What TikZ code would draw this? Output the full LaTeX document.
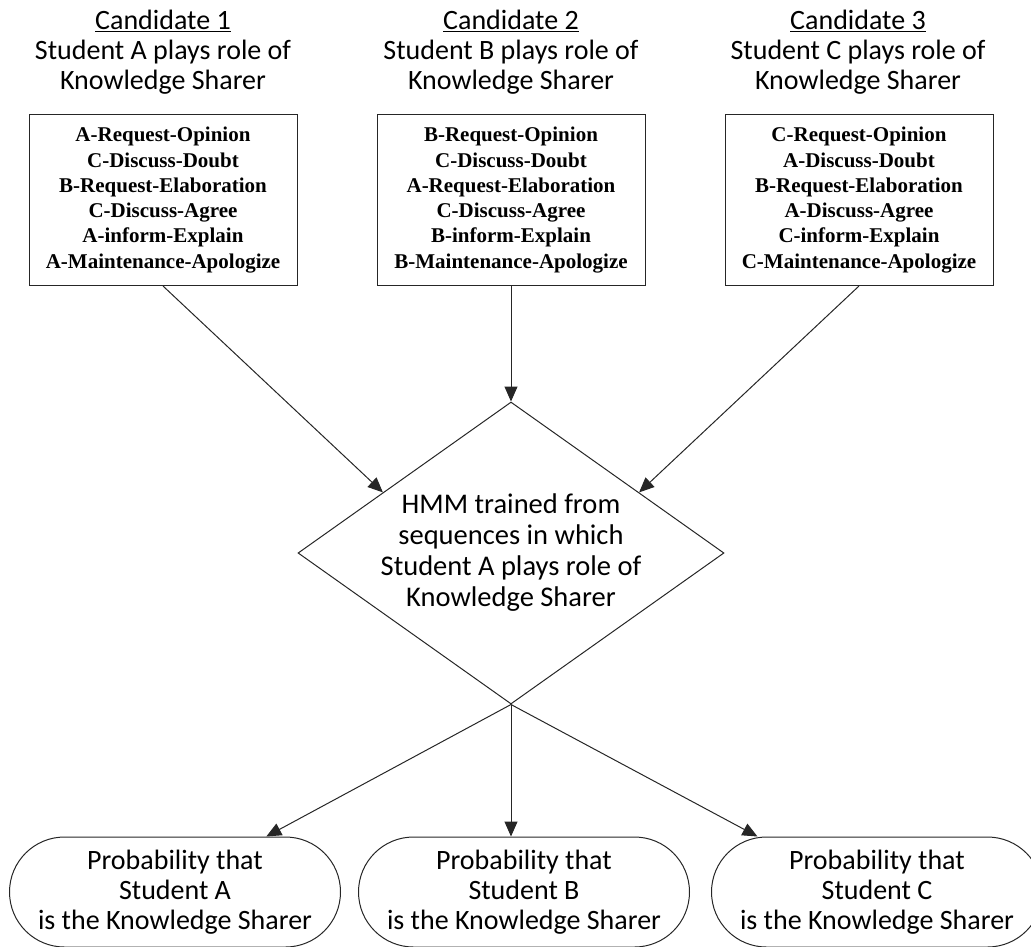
\documentclass[tikz,border=0pt]{standalone}
\usepackage{fontspec}
\setmainfont{Liberation Serif}
\newfontfamily\handfont{Carlito}
\usetikzlibrary{shapes.geometric,arrows.meta,calc}

\begin{document}
\begin{tikzpicture}[x=1pt,y=-1pt,
  every node/.style={inner sep=0pt},
  link/.style={line width=1pt, draw=black!85, -{Triangle[length=15pt,width=13pt]}},
  header/.style={align=center, font=\handfont\fontsize{28}{30}\selectfont},
  seqbox/.style={draw=black!85, line width=1pt, minimum width=268pt, minimum height=171pt,
                 align=center, font=\bfseries\fontsize{21}{25.3}\selectfont},
  hmm/.style={draw=black!85, diamond, line width=1pt, minimum width=426pt, minimum height=302pt},
  hmmtext/.style={align=center, font=\handfont\fontsize{28.5}{31}\selectfont},
  outcome/.style={draw=black!85, line width=1pt, rounded corners=55pt, minimum width=331pt,
                  minimum height=110pt, align=center, font=\handfont\fontsize{28}{30}\selectfont}]

\useasboundingbox (0,0) rectangle (1031,946);
\clip (0,0) rectangle (1031,946);

% candidate headers
\node[header] (h1) at (163,52) {\underline{Candidate 1}\\Student A plays role of\\Knowledge Sharer};
\node[header] (h2) at (511,52) {\underline{Candidate 2}\\Student B plays role of\\Knowledge Sharer};
\node[header] (h3) at (858,52) {\underline{Candidate 3}\\Student C plays role of\\Knowledge Sharer};

% dialogue-act sequences
\node[seqbox] (b1) at (163,200) {A-Request-Opinion\\C-Discuss-Doubt\\B-Request-Elaboration\\C-Discuss-Agree\\A-inform-Explain\\A-Maintenance-Apologize};
\node[seqbox] (b2) at (511,200) {B-Request-Opinion\\C-Discuss-Doubt\\A-Request-Elaboration\\C-Discuss-Agree\\B-inform-Explain\\B-Maintenance-Apologize};
\node[seqbox] (b3) at (859,200) {C-Request-Opinion\\A-Discuss-Doubt\\B-Request-Elaboration\\A-Discuss-Agree\\C-inform-Explain\\C-Maintenance-Apologize};

% HMM decision diamond
\node[hmm] (d) at (511,553) {};
\node[hmmtext] (dt) at (d.center) {HMM trained from\\sequences in which\\Student A plays role of\\Knowledge Sharer};

% outcomes
\node[outcome] (o1) at (175,892) {Probability that\\Student A\\is the Knowledge Sharer};
\node[outcome] (o2) at (524,892) {Probability that\\Student B\\is the Knowledge Sharer};
\node[outcome] (o3) at (877,892) {Probability that\\Student C\\is the Knowledge Sharer};

% connectors
\coordinate (inL) at ($(d.west)!0.4!(d.north)$);
\coordinate (inR) at ($(d.east)!0.4!(d.north)$);
\draw[link] (b1.south) -- (inL);
\draw[link] (b2.south) -- (d.north);
\draw[link] (b3.south) -- (inR);

\coordinate (outL) at ($(o1.north)!0.55!(o1.north east)$);
\coordinate (outR) at ($(o3.north)!0.72!(o3.north west)$);
\draw[link] (d.south) -- (outL);
\draw[link] (d.south) -- (d.south |- o2.north);
\draw[link] (d.south) -- (outR);
\end{tikzpicture}
\end{document}
